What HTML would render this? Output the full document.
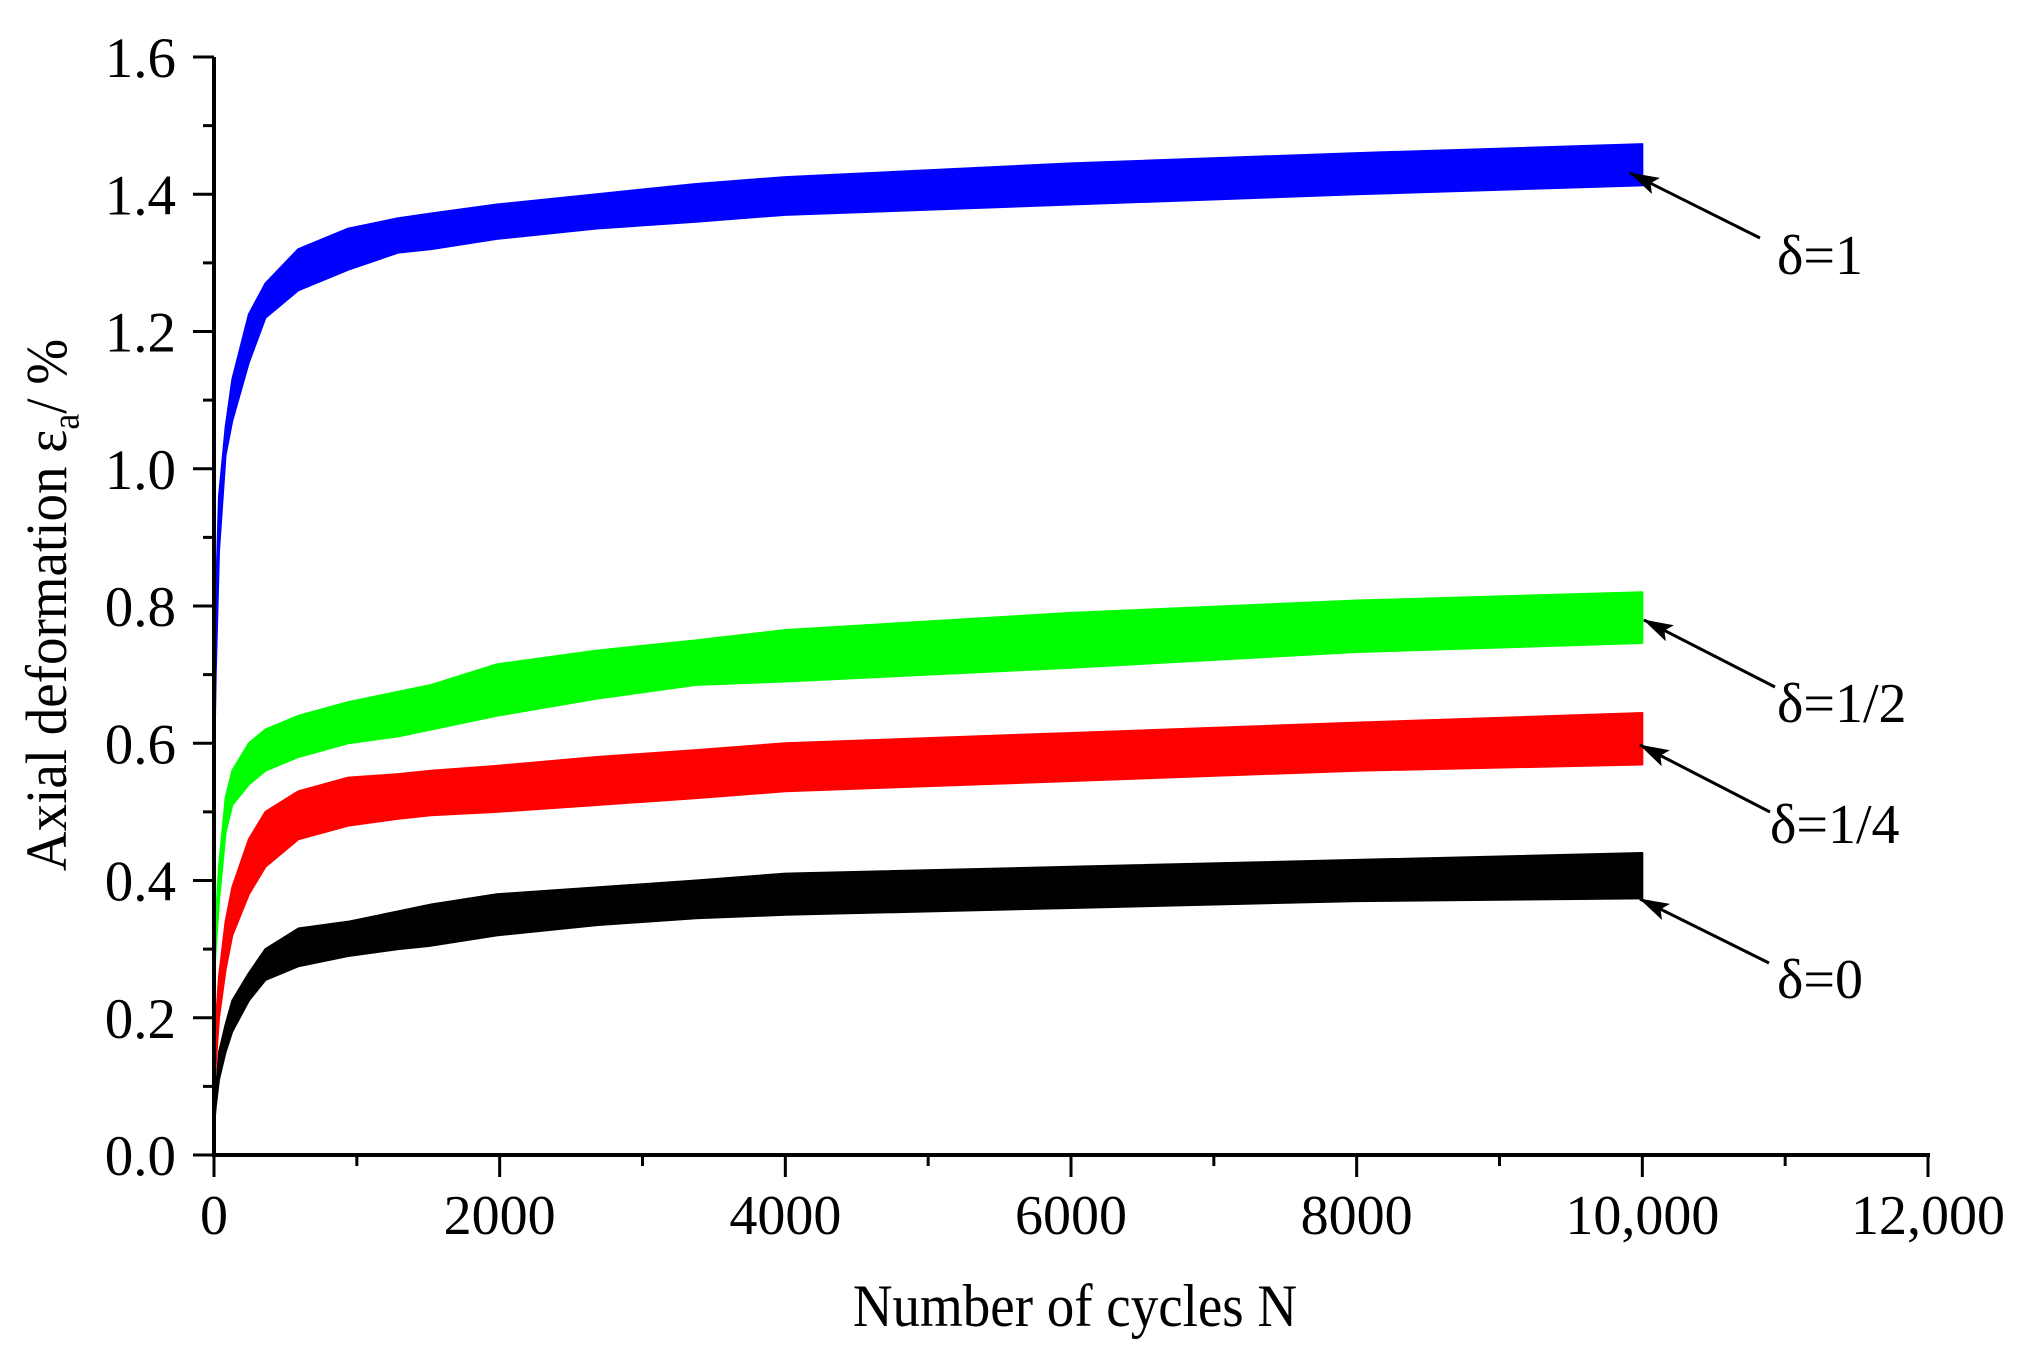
<!DOCTYPE html>
<html><head><meta charset="utf-8"><style>
html,body{margin:0;padding:0;background:#fff;}
svg{display:block;font-family:"Liberation Serif","DejaVu Serif",serif;}
</style></head><body>
<svg id="chart" width="2025" height="1362" viewBox="0 0 2025 1362" xmlns="http://www.w3.org/2000/svg">
<defs>
<marker id="ah2" markerWidth="30" markerHeight="18" refX="29" refY="9" orient="auto" markerUnits="userSpaceOnUse"><path d="M0,0 L30,9 L0,18 L6,9 z" fill="#000"/></marker></defs>
<g id="series"></g>
<g id="axes"></g>
<text x="1075" y="1326" font-size="55" text-anchor="middle" transform="translate(1075,1326) scale(1,1.1) translate(-1075,-1326)">Number of cycles N</text>
<text transform="translate(66,605) rotate(-90) scale(1,1.05)" font-size="55" text-anchor="middle">Axial deformation ε<tspan font-size="36" dy="12">a</tspan><tspan dy="-12">/ %</tspan></text>
<g id="annot"></g>
</svg>
<script>
const xTicks=[0,2000,4000,6000,8000,10000,12000];
const xTickLabels=["0","2000","4000","6000","8000","10,000","12,000"];
const yTicks=[0,0.2,0.4,0.6,0.8,1.0,1.2,1.4,1.6];
const yTickLabels=["0.0","0.2","0.4","0.6","0.8","1.0","1.2","1.4","1.6"];
const cycles=[0,12,35,81,128,244,360,590,940,1290,1520,1980,2680,3375,4000,6000,8000,10000];
const blueLow=[0.55,0.70,0.88,1.02,1.07,1.155,1.22,1.26,1.29,1.315,1.32,1.335,1.35,1.36,1.37,1.385,1.40,1.413];
const blueHigh=[0.57,0.80,0.96,1.06,1.13,1.225,1.27,1.32,1.35,1.365,1.372,1.385,1.40,1.415,1.425,1.445,1.46,1.473];
const greenLow=[0.25,0.30,0.37,0.47,0.51,0.54,0.56,0.58,0.60,0.61,0.62,0.64,0.665,0.685,0.69,0.71,0.733,0.746];
const greenHigh=[0.27,0.34,0.42,0.52,0.56,0.60,0.62,0.64,0.66,0.675,0.685,0.715,0.735,0.75,0.765,0.79,0.808,0.82];
const redLow=[0.10,0.13,0.20,0.27,0.32,0.38,0.42,0.46,0.48,0.49,0.495,0.50,0.51,0.52,0.53,0.545,0.56,0.569];
const redHigh=[0.12,0.19,0.26,0.34,0.39,0.46,0.50,0.53,0.55,0.555,0.56,0.567,0.58,0.59,0.60,0.615,0.63,0.644];
const blackLow=[0.04,0.07,0.11,0.15,0.18,0.225,0.255,0.275,0.29,0.30,0.305,0.32,0.335,0.345,0.35,0.36,0.37,0.374];
const blackHigh=[0.05,0.09,0.15,0.19,0.225,0.265,0.30,0.33,0.34,0.355,0.365,0.38,0.39,0.40,0.41,0.42,0.43,0.44];
const seriesNames=["delta-0","delta-1-4","delta-1-2","delta-1"];
const seriesColors=["#000000","#ff0000","#00ff00","#0000ff"];
const annotLabels=["δ=1","δ=1/2","δ=1/4","δ=0"];

const NS="http://www.w3.org/2000/svg";
const X0=214,X1=1928,Y0=1155,Y1=57;
const xs=v=>X0+(v/12000)*(X1-X0);
const ys=v=>Y0-(v/1.6)*(Y0-Y1);
function mk(tag,attrs,parent){const e=document.createElementNS(NS,tag);for(const k in attrs)e.setAttribute(k,attrs[k]);parent.appendChild(e);return e;}

const sg=document.getElementById('series');
const lows=[blackLow,redLow,greenLow,blueLow], highs=[blackHigh,redHigh,greenHigh,blueHigh];
for(let s=0;s<4;s++){
  let pts=cycles.map((c,i)=>xs(c)+","+ys(highs[s][i]));
  for(let i=cycles.length-1;i>=0;i--)pts.push(xs(cycles[i])+","+ys(lows[s][i]));
  const p=mk('polygon',{points:pts.join(' '),fill:seriesColors[s],stroke:seriesColors[s],'stroke-width':2,'stroke-linejoin':'round'},sg);
  
  
}

const ag=document.getElementById('axes');
let l=mk('line',{x1:X0,y1:Y0,x2:X1+2,y2:Y0,stroke:'#000','stroke-width':4},ag);


l=mk('line',{x1:X0,y1:Y0+2,x2:X0,y2:Y1,stroke:'#000','stroke-width':4},ag);


for(let v=0;v<=12000;v+=1000){
  const maj=v%2000===0;
  const t=mk('line',{x1:xs(v),y1:Y0,x2:xs(v),y2:Y0+(maj?22:11),stroke:'#000','stroke-width':3},ag);
  
  
}
for(let i=0;i<=16;i++){
  const v=i*0.1,maj=i%2===0;
  const t=mk('line',{x1:X0-(maj?21:11),y1:ys(v),x2:X0,y2:ys(v),stroke:'#000','stroke-width':3},ag);
  
  
}
xTicks.forEach((v,i)=>{
  const t=mk('text',{x:xs(v),y:1234,'font-size':56,'text-anchor':'middle'},ag);
  t.textContent=xTickLabels[i];
  
  
});
yTicks.forEach((v,i)=>{
  const t=mk('text',{x:176,y:ys(v)+20,'font-size':57,'text-anchor':'end'},ag);
  t.textContent=yTickLabels[i];
  
  
});

const an=document.getElementById('annot');
const arrows=[[1760,238,1630,173,1777,274],[1775,687,1644,620,1777,722],[1770,812,1640,745,1770,843],[1769,963,1640,899,1777,998]];
arrows.forEach((a,i)=>{
  const ln=mk('line',{x1:a[0],y1:a[1],x2:a[2],y2:a[3],stroke:'#000','stroke-width':3,'marker-end':'url(#ah2)'},an);
  
  
  const t=mk('text',{x:a[4],y:a[5],'font-size':56},an);
  t.textContent=annotLabels[i];
  
  
});
</script>
</body></html>
